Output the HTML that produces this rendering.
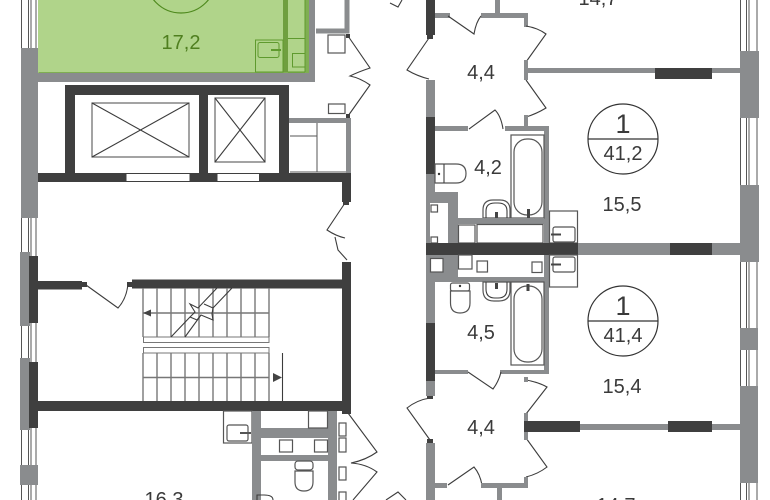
<!DOCTYPE html>
<html><head><meta charset="utf-8"><style>
html,body{margin:0;padding:0;background:#fff}
svg{display:block}
text{font-family:"Liberation Sans",sans-serif;font-size:20px;fill:#3a3a3a;text-anchor:middle}
.g{fill:#8a8c8e}.d{fill:#3f3f3f}
.l{fill:none;stroke:#3c3c3c;stroke-width:1.1}
.m{fill:none;stroke:#777;stroke-width:1.4}
.b{fill:#fff;stroke:#555;stroke-width:1.2}
.w{fill:none;stroke:#555;stroke-width:1}
.gl{fill:none;stroke:#5f9a2e;stroke-width:1}
</style></head><body>
<svg width="770" height="500" viewBox="0 0 770 500" xmlns="http://www.w3.org/2000/svg">
<rect width="770" height="500" fill="#fff"/>
<!-- windows -->
<path class="w" d="M21.5 0V48M28.5 0V48M31 0V48M36 0V48M21.5 218V500M28.5 218V500M31 218V500M36 218V500"/>
<path class="w" d="M740.5 0V500M746.5 0V500M749 0V500M757 0V500"/>
<!-- left wall blocks -->
<rect class="g" x="21" y="48" width="17" height="170"/>
<rect class="g" x="20" y="252" width="10" height="74"/>
<rect class="g" x="20" y="358" width="10" height="72"/>
<rect class="g" x="20" y="465" width="18" height="20"/>
<!-- right wall blocks -->
<rect class="g" x="740" y="51" width="19" height="67"/>
<rect class="g" x="740" y="185" width="19" height="77"/>
<rect class="g" x="740" y="328" width="18" height="22"/>
<rect class="g" x="740" y="386" width="18" height="97"/>
<!-- green room -->
<rect x="38" y="0" width="271" height="73" fill="#b0d48a"/>
<path d="M38.5 72.5H309" stroke="#7fae52" fill="none"/>
<rect x="283" y="0" width="5" height="72" fill="#6f9f3f"/>
<rect x="305" y="0" width="4" height="72" fill="#7fae52"/>
<path class="gl" d="M288 38.5H305M288 72H305M305 0V72"/>
<rect class="gl" x="255.5" y="40" width="27.5" height="32"/>
<rect class="gl" x="258" y="42.5" width="21" height="15" rx="2"/>
<path d="M271 50H281" stroke="#5f9a2e" stroke-width="2"/>
<rect class="gl" x="292.5" y="53.5" width="12.5" height="13.5"/>
<circle cx="181" cy="-22" r="35" fill="none" stroke="#4f8a1e" stroke-width="1.2"/>
<text x="181" y="49" style="fill:#4f7f1f">17,2</text>
<rect class="g" x="38" y="73" width="277" height="9"/>
<rect class="g" x="309" y="0" width="6" height="82"/>
<!-- top box -->
<path d="M347 0V31H316" fill="none" stroke="#8a8c8e" stroke-width="5"/>
<rect class="b" x="328" y="35" width="17" height="18"/>
<rect class="b" x="328.5" y="104" width="16.5" height="9.5"/>
<path class="l" d="M348 36L370 68Q358 72 350 76Q360 78 370 85L348 116"/>
<rect class="d" x="346" y="34" width="4" height="4"/>
<rect class="d" x="346" y="114" width="4" height="4"/>
<!-- elevators -->
<rect class="d" x="65" y="85" width="224" height="10"/>
<rect class="d" x="65" y="85" width="10" height="97"/>
<rect class="d" x="199" y="85" width="9" height="97"/>
<rect class="d" x="279" y="85" width="10" height="97"/>
<rect class="d" x="38" y="173" width="313" height="9"/>
<rect x="126.500" y="174" width="63" height="7" fill="#fff"/>
<rect x="217.500" y="174" width="41.500" height="7" fill="#fff"/>
<rect class="d" x="342" y="173" width="9" height="29"/>
<rect x="92" y="103" width="97" height="54" fill="none" stroke="#666" stroke-width="1.2"/>
<path class="l" d="M92 103L189 157M189 103L92 157"/>
<rect x="215" y="98" width="50" height="64" fill="none" stroke="#666" stroke-width="1.2"/>
<path class="l" d="M215 98L265 162M265 98L215 162"/>
<!-- cabinet -->
<rect class="g" x="289" y="118" width="62" height="5"/>
<rect class="g" x="346" y="118" width="5" height="55"/>
<path class="w" d="M290 136H317M317 123V172M290 172H346"/>
<!-- doors near lobby -->
<path class="l" d="M345 203L327 230Q336 236 345 238M335 237L338 250L347 260"/>
<rect class="d" x="343" y="200" width="6" height="5"/>
<!-- stair walls -->
<rect class="d" x="29" y="256" width="9" height="67"/>
<rect class="d" x="29" y="362" width="9" height="66"/>
<rect class="d" x="29" y="401" width="322" height="10"/>
<rect class="d" x="342" y="262" width="9" height="152"/>
<rect class="d" x="38" y="281" width="44" height="8.500"/>
<rect class="d" x="82" y="282" width="5" height="5"/>
<rect class="d" x="132" y="279.500" width="210" height="9"/>
<rect class="d" x="127" y="282" width="5" height="5"/>
<path class="l" d="M86 285L118 308Q127 298 128 283"/>
<!-- stairs -->
<path class="m" d="M143 288V337M157 288V337M171 288V337M185 288V337M199 288V337M213 288V337M227 288V337M241 288V337M255 288V337M269 288V337M143 313H269"/>
<path class="m" d="M143 353V401M157 353V401M171 353V401M185 353V401M199 353V401M213 353V401M227 353V401M241 353V401M255 353V401M269 353V401M143 377.500H269"/>
<rect x="143.500" y="337" width="125.500" height="5.500" fill="none" stroke="#777"/>
<rect x="143.500" y="347.500" width="125.500" height="5.500" fill="none" stroke="#777"/>
<path class="l" d="M282.500 353V401"/>
<path class="l" d="M217 288L198 308L190 304L195 312L190 317L171 337M232 288L213 308L204 304M213 308L212 314L213 320L201 315L185 337M190 317L197 320L201 315"/>
<path d="M143 313L151 309.500V316.500Z" fill="#444"/>
<path d="M282 377.500L273 373V382Z" fill="#444"/>
<!-- lower service block -->
<rect class="b" x="223.500" y="411" width="28.500" height="32"/>
<rect class="b" x="227" y="425" width="21" height="16" rx="2"/>
<path d="M240 433H251" stroke="#555" stroke-width="2"/>
<rect class="g" x="252" y="411" width="9" height="89"/>
<rect class="g" x="328" y="411" width="9" height="89"/>
<rect class="g" x="252" y="428" width="85" height="10"/>
<rect class="g" x="252" y="455" width="85" height="6"/>
<rect class="b" x="308.500" y="411" width="19" height="17"/>
<rect class="b" x="279.500" y="440" width="13" height="12"/>
<rect class="b" x="314.500" y="440" width="13" height="12"/>
<rect class="b" x="295" y="461" width="18" height="9" rx="3"/>
<path class="b" d="M295 471V482Q295 491 304 491Q313 491 313 482V471Z"/>
<path class="l" d="M257 500V495H264Q273 495 273 500"/>
<rect class="b" x="339" y="423" width="7" height="13"/>
<rect class="b" x="339" y="438" width="7" height="14"/>
<rect class="b" x="339" y="467" width="7" height="13"/>
<rect class="b" x="339" y="492" width="7" height="9"/>
<path class="l" d="M348 413L377 452Q366 460 351 463Q366 464 377 472L353 500"/>
<text x="164" y="506">16,3</text>

<!-- ===== Right units ===== -->
<rect class="d" x="426" y="0" width="9" height="35"/>
<rect class="g" x="435" y="13" width="15" height="5"/>
<rect class="g" x="481" y="13" width="47" height="5"/>
<rect class="g" x="495" y="0" width="5" height="13"/>
<rect class="g" x="524" y="18" width="4" height="9"/>
<rect class="d" x="427" y="35" width="6" height="4"/>
<path class="l" d="M448 16L474 34Q476 22 481 16M526 26Q538 28 546 34L526 62M526 80L546 108Q536 114 526 117M429 38L407 70Q417 76 429 79"/>
<path class="l" d="M402 0L398 7L390 3"/>
<rect class="g" x="524" y="60" width="4" height="20"/>
<rect class="g" x="528" y="68" width="212" height="5"/>
<rect class="d" x="655" y="68" width="57" height="11"/>
<rect class="g" x="524" y="115" width="4" height="12"/>
<rect class="g" x="426" y="80" width="9" height="37"/>
<rect class="d" x="426" y="117" width="9" height="57"/>
<rect class="g" x="426" y="174" width="9" height="69"/>
<rect class="g" x="435" y="192" width="23" height="51"/>
<rect x="430" y="203" width="18" height="40" fill="#fff"/>
<rect class="b" x="431" y="205" width="6.500" height="7"/>
<rect class="b" x="431" y="237" width="6.500" height="6"/>
<rect class="g" x="435" y="126" width="33" height="5"/>
<rect class="g" x="505" y="126" width="44" height="5"/>
<rect class="g" x="544" y="126" width="5" height="117"/>
<path class="l" d="M469 129L495 110Q501 116 503 129"/>
<rect class="b" x="511" y="135" width="33" height="83"/>
<rect class="b" x="514" y="139" width="28" height="76" rx="13"/>
<path d="M528.500 209V218" stroke="#444" stroke-width="3"/>
<path class="b" d="M435 164H456Q466 164 466 173.500Q466 183 456 183H435Z"/>
<path class="l" d="M444 164V183"/>
<circle cx="439" cy="174" r="1.200" fill="#333"/>
<path class="b" d="M483 218V210Q483 200 493 200H500Q510 200 510 210V218Z"/>
<path class="l" d="M486 218V211Q486 203 495 203H498Q507 203 507 211V218"/>
<path d="M496.500 212V218" stroke="#444" stroke-width="3"/>
<rect class="g" x="458" y="218" width="86" height="6"/>
<rect class="b" x="458.500" y="225" width="16.500" height="18"/>
<rect class="b" x="477" y="224.500" width="66" height="18.500"/>
<rect class="b" x="549.500" y="211" width="28" height="32"/>
<rect class="b" x="553" y="227" width="22" height="15" rx="2"/>
<path d="M551 234.500H561" stroke="#444" stroke-width="2"/>
<!-- central wall -->
<rect class="g" x="578" y="243" width="162" height="12"/>
<rect class="d" x="670" y="243" width="42" height="12"/>
<rect class="d" x="426" y="243" width="152" height="12"/>
<!-- lower unit -->
<rect class="g" x="426" y="255" width="9" height="68"/>
<rect class="d" x="426" y="323" width="9" height="58"/>
<rect class="g" x="426" y="381" width="9" height="15"/>
<rect class="g" x="426" y="255" width="32" height="27"/>
<rect x="435" y="255" width="13" height="22" fill="#8a8c8e"/>
<rect class="b" x="430.500" y="258.500" width="12.500" height="13.500"/>
<rect class="g" x="426" y="277" width="123" height="5"/>
<rect class="g" x="544" y="255" width="5" height="118"/>
<rect class="b" x="458.500" y="255" width="13.500" height="14"/>
<rect class="b" x="477" y="261" width="10.500" height="11"/>
<rect class="b" x="532" y="262" width="10" height="10.500"/>
<rect class="b" x="450.500" y="283" width="19" height="8" rx="2"/>
<path class="b" d="M450.500 291V303Q450.500 313 460 313Q470 313 470 303V291Z"/>
<circle cx="460" cy="286" r="1.200" fill="#333"/>
<path class="b" d="M483 282V290Q483 301 494 301H499Q510 301 510 290V282Z"/>
<path class="l" d="M486 282V289Q486 298 495 298H498Q507 298 507 289V282"/>
<path d="M496.500 283V289" stroke="#444" stroke-width="3"/>
<rect class="b" x="511" y="282" width="33" height="83"/>
<rect class="b" x="514" y="286" width="28" height="76" rx="13"/>
<path d="M528 284V291" stroke="#444" stroke-width="3"/>
<rect class="b" x="549.500" y="255" width="28" height="32"/>
<rect class="b" x="553" y="257" width="22" height="15" rx="2"/>
<path d="M551 264.500H561" stroke="#444" stroke-width="2"/>
<rect class="g" x="435" y="370" width="33" height="4"/>
<rect class="g" x="500" y="370" width="49" height="4"/>
<path class="l" d="M468 372L493 389Q499 381 501 372M430 398Q417 400 407 408L430 440M526 380Q538 382 547 387L526 414M526 438L547 467Q538 474 526 477M448 485L474 467Q480 474 482 485"/>
<rect class="g" x="524" y="377" width="4" height="5"/>
<rect class="g" x="524" y="413" width="4" height="27"/>
<rect class="d" x="524" y="421" width="56" height="11"/>
<rect class="g" x="580" y="424" width="88" height="6"/>
<rect class="d" x="668" y="421" width="44" height="11"/>
<rect class="g" x="712" y="424" width="28" height="6"/>
<rect class="g" x="524" y="477" width="4" height="11"/>
<rect class="g" x="481" y="483" width="47" height="5"/>
<rect class="g" x="435" y="483" width="12" height="5"/>
<rect class="g" x="497" y="488" width="5" height="12"/>
<rect class="g" x="426" y="443" width="9" height="57"/>
<rect class="d" x="427" y="396" width="6" height="3"/>
<rect class="d" x="427" y="439" width="6" height="4"/>
<path class="l" d="M386 500L398 492L406 500"/>
<!-- circles -->
<circle cx="623" cy="139" r="35" fill="#fff" stroke="#333" stroke-width="1.2"/>
<path d="M588 139H658" stroke="#333" stroke-width="1.2"/>
<text x="623" y="133" style="font-size:27px">1</text>
<text x="623" y="160">41,2</text>
<circle cx="623" cy="321" r="35" fill="#fff" stroke="#333" stroke-width="1.2"/>
<path d="M588 321H658" stroke="#333" stroke-width="1.2"/>
<text x="623" y="315" style="font-size:27px">1</text>
<text x="623" y="342">41,4</text>
<!-- labels -->
<text x="598" y="5">14,7</text>
<text x="481" y="79">4,4</text>
<text x="488" y="174">4,2</text>
<text x="622" y="211">15,5</text>
<text x="481" y="339">4,5</text>
<text x="622" y="393">15,4</text>
<text x="481" y="434">4,4</text>
<text x="616" y="512">14,7</text>
</svg>
</body></html>
